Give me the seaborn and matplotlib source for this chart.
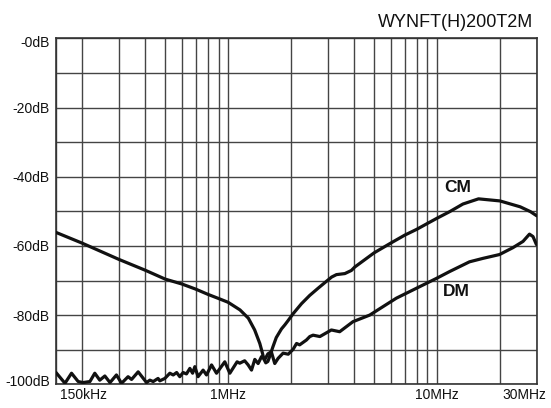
import matplotlib
matplotlib.use("Agg")
import matplotlib.pyplot as plt
import matplotlib.transforms as mtrans
from matplotlib.ticker import NullFormatter
import numpy as np
import pandas as pd
import seaborn as sns

title = "WYNFT(H)200T2M"

cm_freq = [150e3, 200e3, 300e3, 400e3, 500e3, 600e3, 700e3, 800e3, 900e3, 1.0e6,
           1.14e6, 1.25e6, 1.34e6, 1.418e6, 1.46e6, 1.485e6, 1.515e6, 1.55e6, 1.58e6,
           1.64e6, 1.70e6, 1.80e6, 1.87e6, 1.936e6, 2.047e6, 2.245e6, 2.459e6, 2.70e6,
           2.96e6, 3.13e6, 3.30e6, 3.62e6, 3.89e6, 4.04e6, 5.0e6, 6.0e6, 7.0e6, 8.0e6,
           9.0e6, 10e6, 11.5e6, 13.3e6, 15.8e6, 20e6, 25e6, 28e6, 30e6]
cm_db = [-56.1, -59.2, -63.9, -67.0, -69.6, -71.0, -72.5, -74.0, -75.2, -76.3,
         -78.5, -80.9, -84.3, -88.2, -91.0, -92.8, -93.8, -93.4, -92.0,
         -89.1, -86.5, -84.0, -82.8, -81.6, -79.6, -76.7, -74.3, -72.2,
         -70.2, -69.0, -68.3, -68.0, -67.1, -66.1, -62.0, -59.2, -56.9, -55.2,
         -53.5, -52.0, -50.1, -47.9, -46.4, -47.0, -48.7, -50.1, -51.3]

dm_freq = [150e3, 165.6e3, 178e3, 191.5e3, 202e3, 218e3, 230e3, 243e3, 257e3, 272e3,
           292e3, 309e3, 332e3, 345e3, 371e3, 407e3, 422e3, 438e3, 462e3, 471e3,
           498e3, 526e3, 546e3, 567e3, 587e3, 609e3, 632e3, 656e3, 676e3, 693e3,
           718e3, 759e3, 788e3, 833e3, 880e3, 964e3, 1.019e6, 1.104e6, 1.137e6, 1.20e6,
           1.247e6, 1.294e6, 1.342e6, 1.392e6, 1.445e6, 1.50e6, 1.55e6, 1.61e6, 1.672e6,
           1.735e6, 1.833e6, 1.94e6, 2.046e6, 2.126e6, 2.20e6, 2.37e6, 2.46e6, 2.55e6,
           2.75e6, 3.12e6, 3.42e6, 3.96e6, 4.76e6, 6.39e6, 7.40e6, 9.93e6, 11.5e6,
           14.3e6, 16.6e6, 19.9e6, 23.1e6, 25.8e6, 27.7e6, 28.8e6, 29.9e6]
dm_db = [-96.6, -99.7, -96.8, -99.2, -99.5, -99.2, -96.8, -98.8, -97.6, -99.5,
         -97.3, -99.7, -97.8, -98.6, -96.4, -99.5, -98.8, -99.2, -98.3, -99.0,
         -98.3, -96.8, -97.3, -96.6, -97.8, -96.6, -97.0, -95.4, -96.8, -94.9,
         -97.8, -95.9, -97.3, -94.4, -96.8, -93.5, -96.8, -93.5, -93.9, -93.2,
         -94.4, -95.9, -92.8, -94.0, -92.0, -92.8, -91.2, -90.6, -94.0,
         -92.5, -91.0, -91.3, -89.9, -88.2, -88.6, -87.2, -86.2, -85.8,
         -86.2, -84.3, -84.8, -81.9, -80.0, -75.1, -73.2, -69.4, -67.4,
         -64.6, -63.6, -62.5, -60.5, -58.7, -56.6, -57.3, -59.6]

x_tick_freqs = [150e3, 1e6, 10e6, 30e6]
x_tick_labels = ["150kHz", "1MHz", "10MHz", "30MHz"]
x_grid_freqs = [2e5, 3e5, 4e5, 5e5, 6e5, 7e5, 8e5, 9e5,
                2e6, 3e6, 4e6, 5e6, 6e6, 7e6, 8e6, 9e6, 2e7]
y_ticks = [0, -20, -40, -60, -80, -100]
y_tick_labels = ["-0dB", "-20dB", "-40dB", "-60dB", "-80dB", "-100dB"]
y_grid = [-10, -30, -50, -70, -90]

sns.set_theme(style="white")
plt.rcParams["font.family"] = ["Liberation Sans", "DejaVu Sans"]

df = pd.concat([
    pd.DataFrame({"freq": cm_freq, "db": cm_db, "series": "CM"}),
    pd.DataFrame({"freq": dm_freq, "db": dm_db, "series": "DM"}),
], ignore_index=True)

W, H = 551, 408
fig = plt.figure(figsize=(W / 100, H / 100), dpi=100)
L, R, T, B = 56, 536.7, 38.3, 384.3
ax = fig.add_axes([L / W, 1 - B / H, (R - L) / W, (B - T) / H])

sns.lineplot(data=df, x="freq", y="db", hue="series",
             palette={"CM": "#111111", "DM": "#111111"},
             estimator=None, sort=False, legend=False, lw=2.3, ax=ax, zorder=3)
for ln in ax.get_lines():
    ln.set_solid_joinstyle("round")

ax.set_xscale("log")
ax.set_xlim(150e3, 30e6)
ax.set_ylim(-100, 0)
ax.set_xlabel("")
ax.set_ylabel("")

ax.set_xticks(x_tick_freqs)
ax.set_xticklabels(x_tick_labels)
ax.set_xticks(x_grid_freqs, minor=True)
ax.xaxis.set_minor_formatter(NullFormatter())
ax.set_yticks(y_ticks)
ax.set_yticklabels(y_tick_labels)
ax.set_yticks(y_grid, minor=True)
ax.yaxis.set_minor_formatter(NullFormatter())

ax.grid(which="both", color="#444444", lw=1.0)
ax.tick_params(which="both", length=0, labelsize=10, colors="#111111")
ax.tick_params(axis="y", pad=4.5)
ax.tick_params(axis="x", pad=3)
for s in ax.spines.values():
    s.set_color("#333333")
    s.set_linewidth(1.2)

# adjust end labels
xl = ax.get_xticklabels()
xl[0].set_horizontalalignment("left")
xl[0].set_transform(xl[0].get_transform() + mtrans.ScaledTranslation(4 / 100, 0, fig.dpi_scale_trans))
xl[-1].set_horizontalalignment("right")
xl[-1].set_transform(xl[-1].get_transform() + mtrans.ScaledTranslation(10 / 100, 0, fig.dpi_scale_trans))
yl = ax.get_yticklabels()
yl[0].set_transform(yl[0].get_transform() + mtrans.ScaledTranslation(0, -3 / 100, fig.dpi_scale_trans))
yl[-1].set_transform(yl[-1].get_transform() + mtrans.ScaledTranslation(0, 4 / 100, fig.dpi_scale_trans))

ax.text(12.6e6, -43.1, "CM", ha="center", va="center", fontsize=12.5,
        fontweight="bold", color="#111111", zorder=4)
ax.text(12.4e6, -73.3, "DM", ha="center", va="center", fontsize=12.5,
        fontweight="bold", color="#111111", zorder=4)

fig.text(533 / W, 1 - 22.7 / H, title, ha="right", va="center", fontsize=13,
         color="#111111")

fig.savefig("out.png", dpi=100, facecolor="white")
